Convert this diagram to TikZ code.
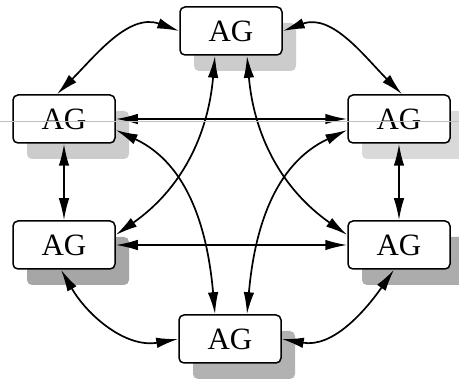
\documentclass[tikz,border=0pt]{standalone}
\usepackage{fontspec}
\setmainfont{Liberation Serif}
\usetikzlibrary{arrows.meta,shadows}
\begin{document}
\begin{tikzpicture}[x=1pt,y=1pt,
  agbox/.style={draw=black, line width=1.5pt, rounded corners=5pt, fill=white,
    minimum width=102pt, minimum height=48pt, inner sep=0pt,
    font=\fontsize{31}{32}\selectfont},
  shd/.style={drop shadow={shadow xshift=14pt, shadow yshift=-16pt, fill=#1, draw=none, opacity=1}},
  arr/.style={line width=1.7pt, {Latex[length=22pt,width=10.5pt]}-{Latex[length=22pt,width=10.5pt]}}]
\useasboundingbox (0,0) rectangle (459,380);
\fill[white] (0,0) rectangle (459,380);
\node[agbox, shd=gray!40] (t) at (231,349) {AG};
\node[agbox, shd=gray!40] (ul) at (64,261) {AG};
\node[agbox, shd=gray!30] (ur) at (399,261) {AG};
\node[agbox, shd=gray!70] (ll) at (64,135) {AG};
\node[agbox, shd=gray!65] (lr) at (399,135) {AG};
\node[agbox, shd=gray!60] (b) at (230,41) {AG};
\draw[arr] (ul.east) -- (ur.west);
\draw[arr] (ll.east) -- (lr.west);
\draw[arr] (ul.south) -- (ll.north);
\draw[arr] (ur.south) -- (lr.north);
\draw[arr] (t.west) to[out=160,in=45] ([xshift=-7pt]ul.north);
\draw[arr] (t.east) to[out=20,in=135] ([xshift=3pt]ur.north);
\draw[arr] ([xshift=-3pt]ll.south) to[out=-60,in=190] (b.west);
\draw[arr] ([xshift=-5pt]lr.south) to[out=-125,in=-10] (b.east);
\draw[arr] ([xshift=-16pt]t.south) to[out=-95,in=35] ([yshift=10pt]ll.east);
\draw[arr] ([xshift=16pt]t.south) to[out=-85,in=145] ([yshift=10pt]lr.west);
\draw[arr] ([yshift=-11pt]ul.east) to[out=-25,in=95] ([xshift=-15pt]b.north);
\draw[arr] ([yshift=-11pt]ur.west) to[out=205,in=85] ([xshift=17pt]b.north);
\draw[gray!50, line width=0.5pt] (0,259) -- (459,259);
\end{tikzpicture}
\end{document}
